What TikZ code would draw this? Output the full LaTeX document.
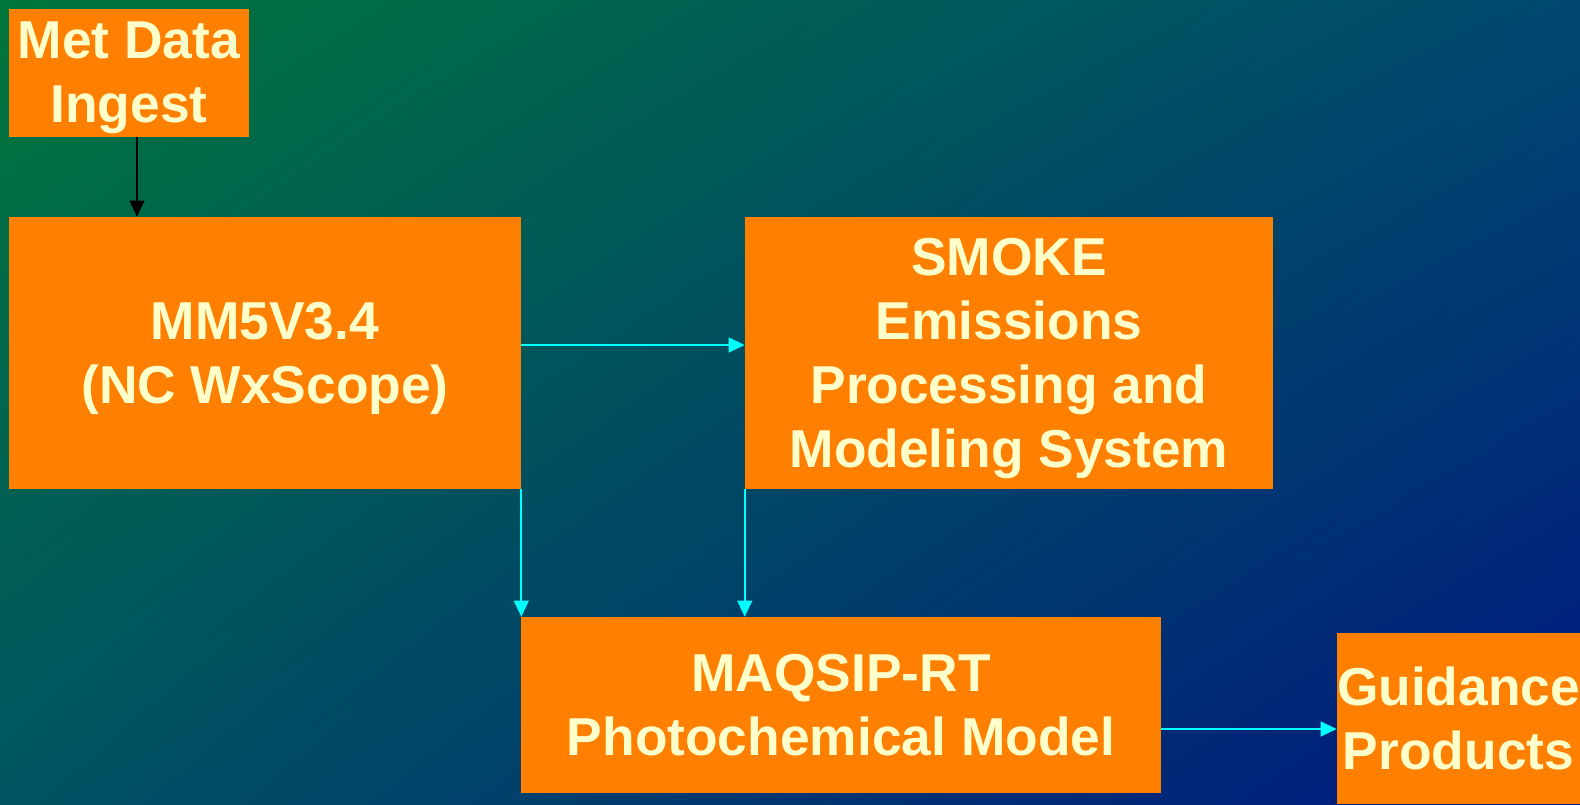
\documentclass[tikz,border=0pt]{standalone}
\usepackage{fontspec}
\setmainfont{Liberation Sans}
\usetikzlibrary{arrows.meta, positioning, calc, shadings}
\definecolor{boxorange}{RGB}{255,128,0}
\definecolor{labelcream}{RGB}{255,255,204}
\definecolor{flowcyan}{RGB}{0,255,255}
\definecolor{bgtopleft}{RGB}{0,118,58}
\definecolor{bgtopright}{RGB}{0,72,112}
\definecolor{bgbotleft}{RGB}{0,84,98}
\definecolor{bgbotright}{RGB}{0,22,128}

\tikzset{
  stage/.style={fill=boxorange, inner sep=0pt, align=center, text=labelcream,
    font=\fontsize{40}{48}\selectfont\bfseries},
  flow/.style={draw=flowcyan, line width=1.5pt, -{Triangle[length=12pt,width=11pt]}},
  feed/.style={draw=black, line width=1.5pt, -{Triangle[length=12pt,width=11pt]}}
}

\begin{document}
\begin{tikzpicture}[x=0.75pt, y=-0.75pt]
        % Background
        \shade[upper left=bgtopleft, upper right=bgtopright, lower left=bgbotleft, lower right=bgbotright]
          (0,0) rectangle (1580,804);
        \useasboundingbox (0,0) rectangle (1580,804);
        
        % Stages
        \node[stage, minimum width=180pt, minimum height=96pt, text depth=1pt] (met) at (129,73) {Met Data\\Ingest};
        \node[stage, minimum width=384pt, minimum height=204pt, text depth=-3.5pt] (mm5) at (265,353) {MM5V3.4\\(NC WxScope)};
        \node[stage, minimum width=396pt, minimum height=204pt, text depth=-3.6pt] (smoke) at (1009,353) {SMOKE\\Emissions\\Processing and\\Modeling System};
        \node[stage, minimum width=480pt, minimum height=132pt, text depth=-2pt] (maqsip) at (841,705) {MAQSIP-RT\\Photochemical Model};
        \node[stage, minimum width=182.25pt, minimum height=128.25pt] (guid) at (1458.5,718.5) {Guidance\\Products};
        
        % Connectors
        \draw[feed] ([xshift=6pt]met.south) -- ([xshift=6pt]met.south |- mm5.north);
        \draw[flow] ([yshift=6pt]mm5.east) -- ([yshift=6pt]smoke.west);
        \draw[flow] (mm5.south east) -- (mm5.south east |- maqsip.north);
        \draw[flow] (smoke.south west) -- (smoke.south west |- maqsip.north);
        \draw[flow] ([yshift=-18pt]maqsip.east) -- ([yshift=-18pt]maqsip.east -| guid.west);
    \end{tikzpicture}
\end{document}
